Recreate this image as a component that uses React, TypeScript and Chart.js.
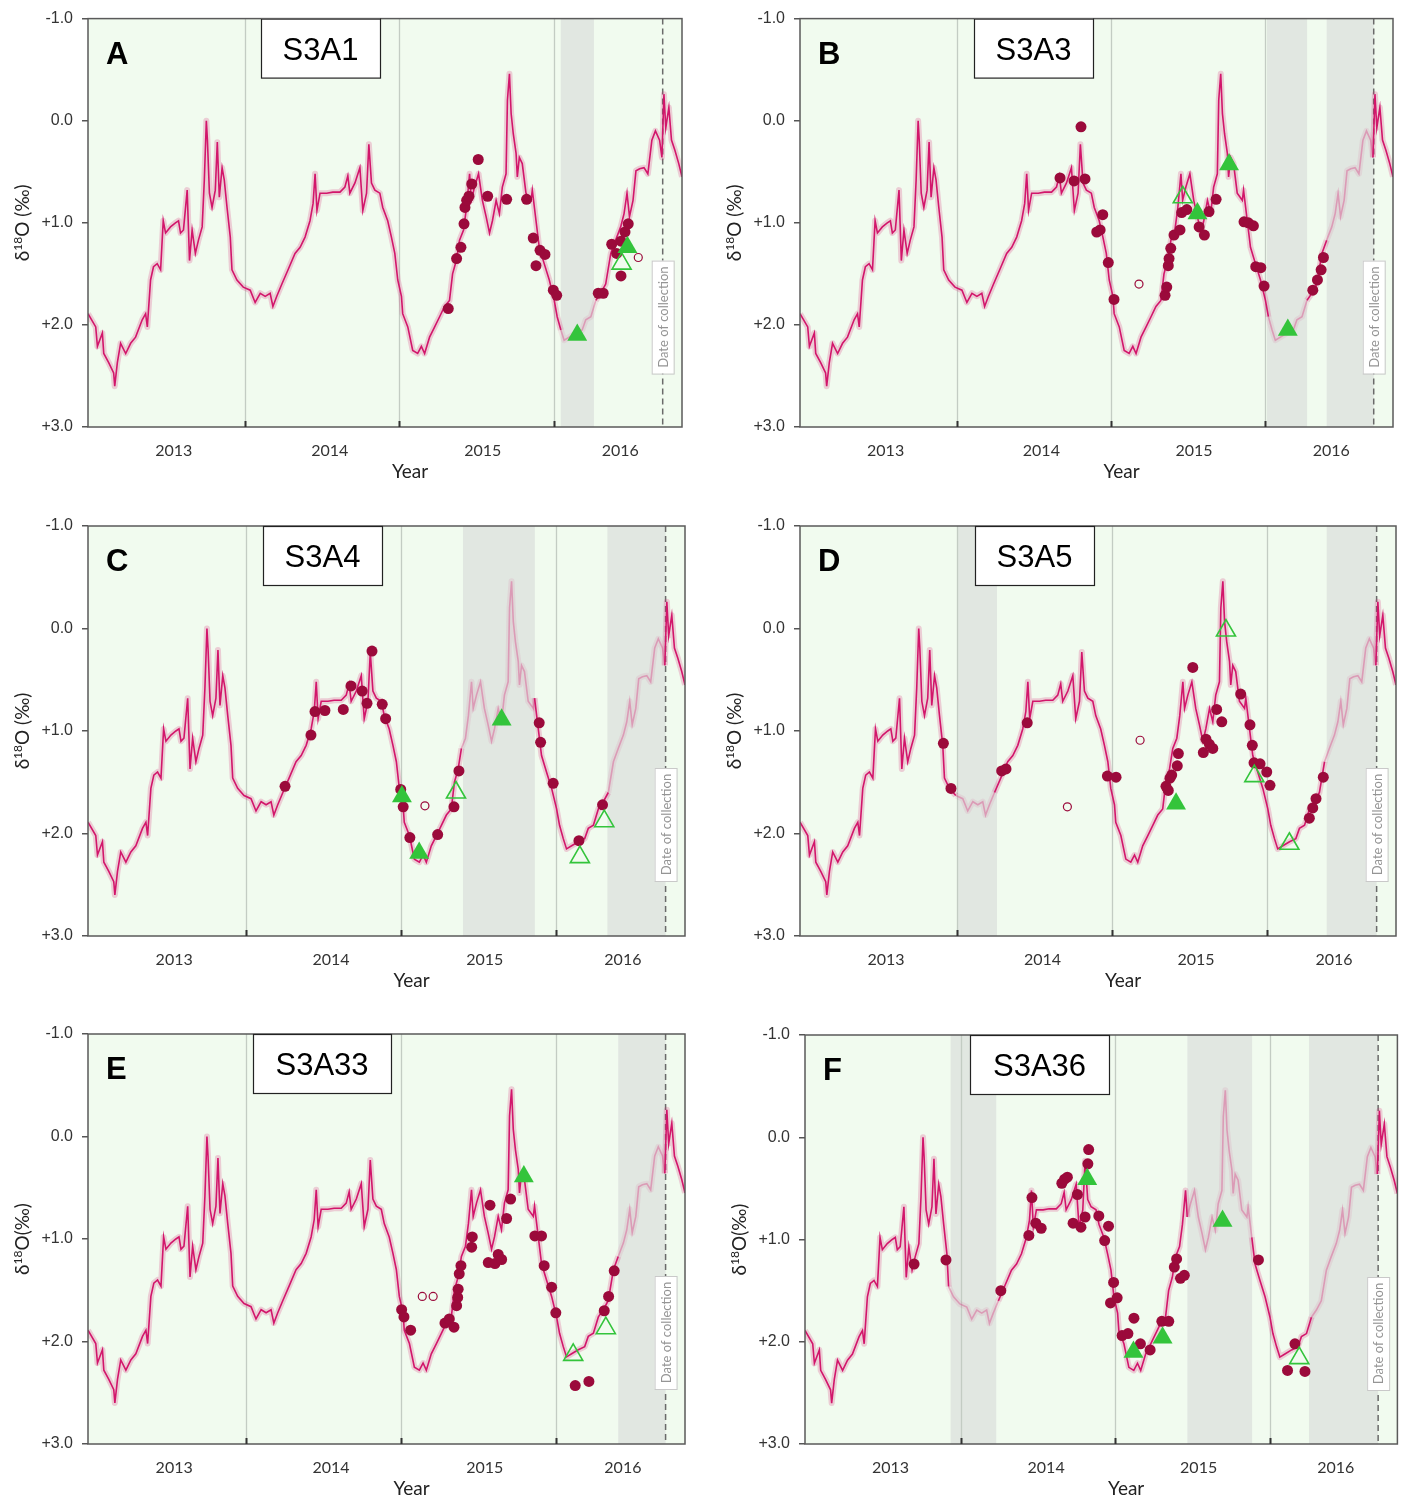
import React, { useEffect, useRef } from "react";
import { Chart, registerables } from "chart.js";
Chart.register(...registerables);

// ---------------- DATA ----------------
// Water δ18O record (same in every panel): decimal year, δ18O (‰)
const lineYears = [
  2012.985, 2013.035, 2013.046, 2013.078, 2013.087, 2013.119, 2013.151, 2013.158, 2013.175, 2013.196,
  2013.229, 2013.261, 2013.293, 2013.336, 2013.358, 2013.369, 2013.39, 2013.409, 2013.433, 2013.455,
  2013.472, 2013.487, 2013.519, 2013.551, 2013.571, 2013.584, 2013.603, 2013.627, 2013.642, 2013.659,
  2013.68, 2013.7, 2013.724, 2013.738, 2013.751, 2013.758, 2013.771, 2013.788, 2013.809, 2013.822,
  2013.835, 2013.853, 2013.867, 2013.885, 2013.906, 2013.917, 2013.949, 2013.99, 2014.035, 2014.067,
  2014.1, 2014.132, 2014.164, 2014.182, 2014.207, 2014.24, 2014.28, 2014.325, 2014.358, 2014.39,
  2014.422, 2014.442, 2014.455, 2014.467, 2014.487, 2014.53, 2014.57, 2014.616, 2014.648, 2014.667,
  2014.68, 2014.713, 2014.745, 2014.764, 2014.788, 2014.803, 2014.82, 2014.842, 2014.874, 2014.893,
  2014.925, 2014.949, 2014.971, 2014.99, 2015.014, 2015.022, 2015.055, 2015.087, 2015.119, 2015.143,
  2015.164, 2015.196, 2015.229, 2015.261, 2015.293, 2015.325, 2015.345, 2015.369, 2015.39, 2015.416,
  2015.435, 2015.455, 2015.466, 2015.487, 2015.513, 2015.538, 2015.562, 2015.584, 2015.603, 2015.627,
  2015.648, 2015.667, 2015.691, 2015.7, 2015.713, 2015.724, 2015.738, 2015.756, 2015.764, 2015.777,
  2015.796, 2015.82, 2015.853, 2015.861, 2015.885, 2015.906, 2015.938, 2015.971, 2016.003, 2016.022,
  2016.046, 2016.067, 2016.1, 2016.143, 2016.184, 2016.207, 2016.24, 2016.272, 2016.304, 2016.336,
  2016.369, 2016.4, 2016.433, 2016.455, 2016.474, 2016.49, 2016.513, 2016.532, 2016.556, 2016.584,
  2016.609, 2016.635, 2016.658, 2016.685, 2016.7, 2016.713, 2016.725, 2016.745, 2016.762, 2016.784,
  2016.809, 2016.83,
];
const lineD18O = [
  1.89, 2.02, 2.21, 2.08, 2.28, 2.37, 2.47, 2.6, 2.37, 2.18,
  2.28, 2.18, 2.12, 1.95, 1.89, 2.02, 1.56, 1.43, 1.4, 1.46,
  0.98, 1.1, 1.04, 1.0, 0.98, 1.1, 1.07, 0.68, 1.37, 1.07,
  1.3, 1.17, 1.04, 0.58, 0.0, 0.19, 0.71, 0.85, 0.68, 0.21,
  0.75, 0.46, 0.58, 0.85, 1.14, 1.46, 1.56, 1.63, 1.66, 1.78,
  1.69, 1.72, 1.69, 1.82, 1.72, 1.6, 1.46, 1.3, 1.24, 1.14,
  0.98, 0.81, 0.52, 0.88, 0.71, 0.71, 0.7, 0.7, 0.65, 0.54,
  0.71, 0.61, 0.46, 0.88, 0.71, 0.23, 0.61, 0.68, 0.71, 0.85,
  0.98, 1.14, 1.3, 1.56, 1.72, 1.89, 2.02, 2.25, 2.28, 2.21,
  2.28, 2.12, 2.02, 1.92, 1.82, 1.76, 1.5, 1.37, 1.17, 1.07,
  0.85, 0.52, 0.78, 0.65, 0.52, 0.78, 0.94, 1.1, 0.98, 0.78,
  0.91, 0.65, 0.52, -0.2, -0.46, -0.07, 0.13, 0.32, 0.55, 0.36,
  0.42, 0.71, 0.78, 0.68, 0.98, 1.24, 1.4, 1.56, 1.76, 1.92,
  2.05, 2.15, 2.12, 2.08, 2.05, 1.95, 1.92, 1.76, 1.69, 1.6,
  1.3, 1.17, 1.04, 0.91, 0.71, 0.94, 0.78, 0.49, 0.47, 0.46,
  0.52, 0.19, 0.1, 0.19, 0.36, -0.26, 0.07, -0.13, 0.19, 0.29,
  0.42, 0.55,
];

const yTickValues = [-1, 0, 1, 2, 3];
const yearLabels = ["2013", "2014", "2015", "2016"];
const yearLabelPositions = [2013.54, 2014.55, 2015.54, 2016.43];
const yearBoundaries = [2014, 2015, 2016];
const collectionDate = 2016.705;
const xMin = 2012.985;
const xMax = 2016.83;

// Panel A – S3A1
const A_circles = [
  [2015.317, 1.84], [2015.371, 1.35], [2015.399, 1.24], [2015.419, 1.01], [2015.425, 0.85],
  [2015.436, 0.78], [2015.451, 0.74], [2015.469, 0.62], [2015.511, 0.38], [2015.572, 0.74],
  [2015.695, 0.77], [2015.824, 0.77], [2015.867, 1.15], [2015.911, 1.27], [2015.943, 1.31],
  [2015.885, 1.42], [2015.997, 1.66], [2016.019, 1.71], [2016.288, 1.69], [2016.32, 1.69],
  [2016.375, 1.21], [2016.407, 1.3], [2016.435, 1.18], [2016.461, 1.09], [2016.482, 1.01],
  [2016.435, 1.52],
];
const A_openCircles = [[2016.547, 1.34]];
const A_triangles = [[2016.152, 2.1], [2016.477, 1.24]];
const A_openTriangles = [[2016.439, 1.4]];
const A_bands = [[2016.045, 2016.26]];

// Panel B – S3A3
const B_circles = [
  [2014.671, 0.56], [2014.762, 0.59], [2014.807, 0.06], [2014.833, 0.57],
  [2014.948, 0.92], [2014.909, 1.09], [2014.931, 1.07], [2014.984, 1.39], [2015.021, 1.75],
  [2015.352, 1.71], [2015.363, 1.63], [2015.373, 1.42], [2015.378, 1.35], [2015.389, 1.25],
  [2015.41, 1.12], [2015.449, 1.07], [2015.46, 0.9], [2015.493, 0.87], [2015.573, 1.04],
  [2015.607, 1.12], [2015.637, 0.89], [2015.683, 0.77], [2015.864, 0.99], [2015.892, 1.0],
  [2015.925, 1.03], [2015.94, 1.43], [2015.973, 1.44], [2015.994, 1.62], [2016.31, 1.66],
  [2016.34, 1.56], [2016.364, 1.46], [2016.379, 1.34],
];
const B_openCircles = [[2015.183, 1.6]];
const B_triangles = [[2015.562, 0.91], [2015.767, 0.43], [2016.148, 2.05]];
const B_openTriangles = [[2015.467, 0.75]];
const B_bands = [[2016.013, 2016.273], [2016.4, 2016.705]];

// Panel C – S3A4
const C_circles = [
  [2014.254, 1.54], [2014.421, 1.04], [2014.447, 0.81], [2014.511, 0.8], [2014.629, 0.79],
  [2014.679, 0.56], [2014.751, 0.61], [2014.782, 0.73], [2014.814, 0.22], [2014.88, 0.74],
  [2014.902, 0.88], [2014.999, 1.57], [2015.015, 1.74], [2015.058, 2.04], [2015.237, 2.01],
  [2015.342, 1.74], [2015.374, 1.39], [2015.891, 0.92], [2015.9, 1.11], [2015.981, 1.51],
  [2016.147, 2.07], [2016.299, 1.72],
];
const C_openCircles = [[2015.155, 1.73]];
const C_triangles = [[2015.007, 1.64], [2015.118, 2.19], [2015.649, 0.89]];
const C_openTriangles = [[2015.355, 1.6], [2016.153, 2.23], [2016.31, 1.88]];
const C_bands = [[2015.4, 2015.863], [2016.33, 2016.705]];

// Panel D – S3A5
const D_circles = [
  [2013.91, 1.12], [2013.959, 1.56], [2014.286, 1.39], [2014.314, 1.37], [2014.451, 0.92],
  [2014.968, 1.44], [2015.024, 1.45], [2015.346, 1.54], [2015.361, 1.58], [2015.372, 1.46],
  [2015.383, 1.43], [2015.419, 1.34], [2015.426, 1.22], [2015.519, 0.38], [2015.587, 1.21],
  [2015.604, 1.08], [2015.626, 1.13], [2015.648, 1.17], [2015.673, 0.79], [2015.706, 0.91],
  [2015.828, 0.64], [2015.888, 0.94], [2015.903, 1.14], [2015.914, 1.31], [2015.953, 1.32],
  [2015.996, 1.4], [2016.017, 1.53], [2016.271, 1.85], [2016.293, 1.75], [2016.314, 1.66],
  [2016.361, 1.45],
];
const D_openCircles = [[2014.71, 1.74], [2015.179, 1.09]];
const D_triangles = [[2015.411, 1.71]];
const D_openTriangles = [[2015.733, 0.02], [2015.916, 1.44], [2016.142, 2.1]];
const D_bands = [[2014.004, 2014.256], [2016.383, 2016.705]];

// Panel E – S3A33
const E_circles = [
  [2015.005, 1.69], [2015.02, 1.76], [2015.063, 1.89], [2015.284, 1.82], [2015.312, 1.78],
  [2015.342, 1.86], [2015.359, 1.65], [2015.366, 1.57], [2015.369, 1.49], [2015.376, 1.34],
  [2015.387, 1.26], [2015.456, 1.08], [2015.46, 0.98], [2015.574, 0.67], [2015.563, 1.23],
  [2015.606, 1.24], [2015.627, 1.15], [2015.649, 1.2], [2015.681, 0.8], [2015.707, 0.61],
  [2015.863, 0.97], [2015.906, 0.97], [2015.923, 1.26], [2015.971, 1.47], [2015.998, 1.72],
  [2016.123, 2.43], [2016.211, 2.39], [2016.31, 1.7], [2016.338, 1.56], [2016.374, 1.31],
];
const E_openCircles = [[2015.138, 1.56], [2015.208, 1.56]];
const E_triangles = [[2015.792, 0.39]];
const E_openTriangles = [[2016.11, 2.13], [2016.32, 1.87]];
const E_bands = [[2016.4, 2016.705]];

// Panel F – S3A36
const F_circles = [
  [2013.693, 1.24], [2013.9, 1.2], [2014.256, 1.5], [2014.438, 0.96], [2014.458, 0.59],
  [2014.483, 0.84], [2014.518, 0.89], [2014.652, 0.45], [2014.67, 0.41], [2014.688, 0.39],
  [2014.725, 0.84], [2014.753, 0.56], [2014.776, 0.88], [2014.803, 0.78], [2014.821, 0.26],
  [2014.826, 0.12], [2014.892, 0.77], [2014.955, 0.87], [2014.93, 1.01], [2014.988, 1.42],
  [2014.968, 1.62], [2015.011, 1.57], [2015.043, 1.94], [2015.081, 1.92], [2015.12, 1.77],
  [2015.162, 2.02], [2015.225, 2.08], [2015.301, 1.8], [2015.346, 1.8], [2015.382, 1.27],
  [2015.397, 1.19], [2015.422, 1.38], [2015.447, 1.35], [2015.928, 1.2], [2016.165, 2.02],
  [2016.117, 2.28], [2016.23, 2.29],
];
const F_openCircles: number[][] = [];
const F_triangles = [[2014.817, 0.41], [2015.117, 2.1], [2015.306, 1.96], [2015.695, 0.82]];
const F_openTriangles = [[2016.193, 2.16]];
const F_bands = [[2013.93, 2014.226], [2015.467, 2015.887], [2016.256, 2016.705]];

// ---------------- STYLE / LAYOUT ----------------
const BG = "#f1fbef";
const BAND = "#e1e7e1";
const LINE_DARK = "#d2166b";
const LINE_FADED = "rgba(214, 60, 130, 0.38)";
const ENV_DARK = "rgba(214, 40, 120, 0.22)";
const ENV_FADED = "rgba(214, 40, 120, 0.09)";
const RED = "#9b0a3b";
const GREEN = "#33c43b";
const SANS = '"Liberation Sans", Arial, sans-serif';
const HUMAN = 'Lato, "Open Sans", sans-serif';

type Panel = {
  letter: string;
  label: string;
  circles: number[][];
  openCircles: number[][];
  triangles: number[][];
  openTriangles: number[][];
  bands: number[][];
  yTitleSpace: boolean;
  canvas: { left: number; top: number; w: number; h: number };
  area: { l: number; t: number; r: number; b: number };
  box: { l: number; r: number };
};

const PANELS: Panel[] = [
  { letter: "A", label: "S3A1", circles: A_circles, openCircles: A_openCircles, triangles: A_triangles, openTriangles: A_openTriangles, bands: A_bands, yTitleSpace: true,
    canvas: { left: 0, top: 0, w: 705, h: 505 }, area: { l: 88, t: 18, r: 682, b: 427 }, box: { l: 261, r: 380 } },
  { letter: "B", label: "S3A3", circles: B_circles, openCircles: B_openCircles, triangles: B_triangles, openTriangles: B_openTriangles, bands: B_bands, yTitleSpace: true,
    canvas: { left: 705, top: 0, w: 705, h: 505 }, area: { l: 800, t: 18, r: 1393, b: 427 }, box: { l: 974, r: 1093 } },
  { letter: "C", label: "S3A4", circles: C_circles, openCircles: C_openCircles, triangles: C_triangles, openTriangles: C_openTriangles, bands: C_bands, yTitleSpace: true,
    canvas: { left: 0, top: 505, w: 705, h: 505 }, area: { l: 88, t: 526, r: 685, b: 936 }, box: { l: 263, r: 382 } },
  { letter: "D", label: "S3A5", circles: D_circles, openCircles: D_openCircles, triangles: D_triangles, openTriangles: D_openTriangles, bands: D_bands, yTitleSpace: true,
    canvas: { left: 705, top: 505, w: 705, h: 505 }, area: { l: 800, t: 526, r: 1396, b: 936 }, box: { l: 975, r: 1094 } },
  { letter: "E", label: "S3A33", circles: E_circles, openCircles: E_openCircles, triangles: E_triangles, openTriangles: E_openTriangles, bands: E_bands, yTitleSpace: false,
    canvas: { left: 0, top: 1010, w: 705, h: 496 }, area: { l: 88, t: 1034, r: 685, b: 1444 }, box: { l: 253, r: 391 } },
  { letter: "F", label: "S3A36", circles: F_circles, openCircles: F_openCircles, triangles: F_triangles, openTriangles: F_openTriangles, bands: F_bands, yTitleSpace: false,
    canvas: { left: 705, top: 1010, w: 705, h: 496 }, area: { l: 805, t: 1035, r: 1400, b: 1444 }, box: { l: 970, r: 1109 } },
];

const Y_AXIS_W = 70;
const X_AXIS_H = 60;

const inBands = (bands: number[][], v: number) => bands.some(([s, e]) => v >= s && v <= e);
const fmtY = (v: number) => (v < 0 ? "-" + Math.abs(v).toFixed(1) : v === 0 ? "0.0" : "+" + v.toFixed(1));
const toPts = (arr: number[][]) => arr.map(([x, y]) => ({ x, y }));

function makeDecor(p: Panel) {
  const boxL = p.box.l - p.canvas.left;
  const boxR = p.box.r - p.canvas.left;
  return {
    id: "decor" + p.letter,
    beforeDatasetsDraw(chart: any) {
      const { ctx, chartArea: a, scales } = chart;
      const x = scales.x;
      ctx.save();
      ctx.fillStyle = BG;
      ctx.fillRect(a.left, a.top, a.right - a.left, a.bottom - a.top);
      ctx.fillStyle = BAND;
      for (const [s, e] of p.bands) {
        const x0 = x.getPixelForValue(s);
        const x1 = x.getPixelForValue(e);
        ctx.fillRect(x0, a.top, x1 - x0, a.bottom - a.top);
      }
      ctx.strokeStyle = "#c3ccc3";
      ctx.lineWidth = 1.3;
      for (const yb of yearBoundaries) {
        const xb = Math.round(x.getPixelForValue(yb)) + 0.5;
        ctx.beginPath();
        ctx.moveTo(xb, a.top);
        ctx.lineTo(xb, a.bottom);
        ctx.stroke();
      }
      // collection date dashed line
      const xc = x.getPixelForValue(collectionDate);
      ctx.strokeStyle = "#6a6a6a";
      ctx.lineWidth = 1.5;
      ctx.setLineDash([6, 4]);
      ctx.beginPath();
      ctx.moveTo(xc, a.top);
      ctx.lineTo(xc, a.bottom);
      ctx.stroke();
      ctx.setLineDash([]);
      // date of collection box
      const bt = a.top + 242;
      const bb = a.top + 355;
      ctx.fillStyle = "#ffffff";
      ctx.fillRect(xc - 11, bt, 22, bb - bt);
      ctx.strokeStyle = "#c9c9c9";
      ctx.lineWidth = 1;
      ctx.strokeRect(xc - 11 + 0.5, bt + 0.5, 22, bb - bt);
      ctx.translate(xc + 1, (bt + bb) / 2);
      ctx.rotate(-Math.PI / 2);
      ctx.fillStyle = "#959595";
      ctx.font = "13px " + HUMAN;
      ctx.textAlign = "center";
      ctx.textBaseline = "middle";
      ctx.fillText("Date of collection", 0, 0);
      ctx.restore();
    },
    afterDatasetsDraw(chart: any) {
      const { ctx, chartArea: a, scales } = chart;
      const x = scales.x;
      ctx.save();
      // frame
      ctx.strokeStyle = "#5a5a5a";
      ctx.lineWidth = 1.5;
      ctx.strokeRect(a.left, a.top, a.right - a.left, a.bottom - a.top);
      // year boundary ticks on bottom axis (inward)
      ctx.strokeStyle = "#333";
      ctx.lineWidth = 2;
      for (const yb of yearBoundaries) {
        const xb = Math.round(x.getPixelForValue(yb)) + 0.5;
        ctx.beginPath();
        ctx.moveTo(xb, a.bottom);
        ctx.lineTo(xb, a.bottom - 6);
        ctx.stroke();
      }
      // panel letter
      ctx.fillStyle = "#000";
      ctx.font = "bold 31px " + SANS;
      ctx.textAlign = "left";
      ctx.textBaseline = "alphabetic";
      ctx.fillText(p.letter, a.left + 18, a.top + 45);
      // sample title box
      ctx.fillStyle = "#fff";
      ctx.fillRect(boxL, a.top, boxR - boxL, 60);
      ctx.strokeStyle = "#222";
      ctx.lineWidth = 1.2;
      ctx.strokeRect(boxL + 0.5, a.top + 0.5, boxR - boxL, 59);
      ctx.fillStyle = "#000";
      ctx.font = "31px " + SANS;
      ctx.textAlign = "center";
      ctx.fillText(p.label, (boxL + boxR) / 2, a.top + 41);
      ctx.restore();
    },
    afterDraw(chart: any) {
      const { ctx, chartArea: a } = chart;
      ctx.save();
      // y-axis title δ18O (‰)
      const cx = a.left - 66;
      const cy = (a.top + a.bottom) / 2;
      ctx.translate(cx, cy);
      ctx.rotate(-Math.PI / 2);
      ctx.fillStyle = "#222";
      ctx.textBaseline = "alphabetic";
      ctx.textAlign = "left";
      const big = "19px " + HUMAN;
      const small = "12px " + HUMAN;
      const rest = p.yTitleSpace ? "O (‰)" : "O(‰)";
      ctx.font = big;
      const w1 = ctx.measureText("δ").width;
      const w3 = ctx.measureText(rest).width;
      ctx.font = small;
      const w2 = ctx.measureText("18").width;
      let xs = -(w1 + w2 + w3) / 2;
      const base = 7;
      ctx.font = big;
      ctx.fillText("δ", xs, base);
      xs += w1;
      ctx.font = small;
      ctx.fillText("18", xs, base - 7);
      xs += w2;
      ctx.font = big;
      ctx.fillText(rest, xs, base);
      ctx.restore();
      // x-axis title
      ctx.save();
      ctx.fillStyle = "#222";
      ctx.font = "19px " + HUMAN;
      ctx.textAlign = "center";
      ctx.textBaseline = "middle";
      ctx.fillText("Year", (a.left + a.right) / 2 + 25, a.bottom + 45);
      ctx.restore();
    },
  };
}

function PanelChart({ p }: { p: Panel }) {
  const ref = useRef<HTMLCanvasElement | null>(null);
  useEffect(() => {
    if (!ref.current) return;
    const relL = p.area.l - p.canvas.left;
    const relR = p.area.r - p.canvas.left;
    const relT = p.area.t - p.canvas.top;
    const relB = p.area.b - p.canvas.top;
    const lineData = lineYears.map((x, i) => ({ x, y: lineD18O[i] }));
    const segColor = (dark: string, faded: string) => (ctx: any) =>
      inBands(p.bands, (ctx.p0.parsed.x + ctx.p1.parsed.x) / 2) ? faded : dark;

    const chart = new Chart(ref.current, {
      type: "scatter",
      data: {
        datasets: [
          {
            data: lineData, showLine: true, pointRadius: 0, borderWidth: 6, borderColor: ENV_DARK,
            segment: { borderColor: segColor(ENV_DARK, ENV_FADED) }, order: 10, borderJoinStyle: "round",
          },
          {
            data: lineData, showLine: true, pointRadius: 0, borderWidth: 1.6, borderColor: LINE_DARK,
            segment: { borderColor: segColor(LINE_DARK, LINE_FADED) }, order: 9,
          },
          {
            data: toPts(p.circles), pointStyle: "circle", pointRadius: 5.5, backgroundColor: RED,
            borderColor: RED, borderWidth: 0, order: 4,
          },
          {
            data: toPts(p.openCircles), pointStyle: "circle", pointRadius: 4, backgroundColor: "rgba(0,0,0,0)",
            borderColor: RED, borderWidth: 1.2, order: 3,
          },
          {
            data: toPts(p.openTriangles), pointStyle: "triangle", pointRadius: 11, backgroundColor: "rgba(0,0,0,0)",
            borderColor: GREEN, borderWidth: 1.6, order: 2,
          },
          {
            data: toPts(p.triangles), pointStyle: "triangle", pointRadius: 11.5, backgroundColor: GREEN,
            borderColor: GREEN, borderWidth: 0, order: 1,
          },
        ] as any,
      },
      options: {
        animation: false,
        responsive: false,
        devicePixelRatio: 1,
        events: [],
        layout: {
          padding: {
            left: relL - Y_AXIS_W,
            top: relT,
            right: p.canvas.w - relR,
            bottom: p.canvas.h - relB - X_AXIS_H,
          },
        },
        plugins: { legend: { display: false }, tooltip: { enabled: false } },
        scales: {
          x: {
            type: "linear",
            min: xMin,
            max: xMax,
            afterBuildTicks: (axis: any) => {
              axis.ticks = yearLabelPositions.map((v) => ({ value: v }));
            },
            afterFit: (s: any) => {
              s.height = X_AXIS_H;
            },
            ticks: {
              callback: (_v: any, i: number) => yearLabels[i],
              font: { family: HUMAN, size: 16 },
              color: "#333",
              padding: 14,
              maxRotation: 0,
              autoSkip: false,
            },
            grid: { display: false, drawTicks: false },
            border: { display: false },
          },
          y: {
            type: "linear",
            reverse: true,
            min: -1,
            max: 3,
            afterBuildTicks: (axis: any) => {
              axis.ticks = yTickValues.map((v) => ({ value: v }));
            },
            afterFit: (s: any) => {
              s.width = Y_AXIS_W;
            },
            ticks: {
              callback: (v: any) => fmtY(Number(v)),
              font: { family: SANS, size: 16 },
              color: "#333",
              padding: 9,
            },
            grid: { drawOnChartArea: false, drawTicks: true, tickLength: 6, color: "#555", lineWidth: 1.5 },
            border: { display: false },
          },
        },
      } as any,
      plugins: [makeDecor(p)],
    });
    return () => chart.destroy();
  }, [p]);

  return (
    <canvas
      ref={ref}
      width={p.canvas.w}
      height={p.canvas.h}
      style={{ position: "absolute", left: p.canvas.left, top: p.canvas.top, width: p.canvas.w, height: p.canvas.h }}
    />
  );
}

export default function App() {
  return (
    <div style={{ position: "absolute", left: 0, top: 0, width: 1410, height: 1506, background: "#fff" }}>
      {PANELS.map((p) => (
        <PanelChart key={p.letter} p={p} />
      ))}
    </div>
  );
}
